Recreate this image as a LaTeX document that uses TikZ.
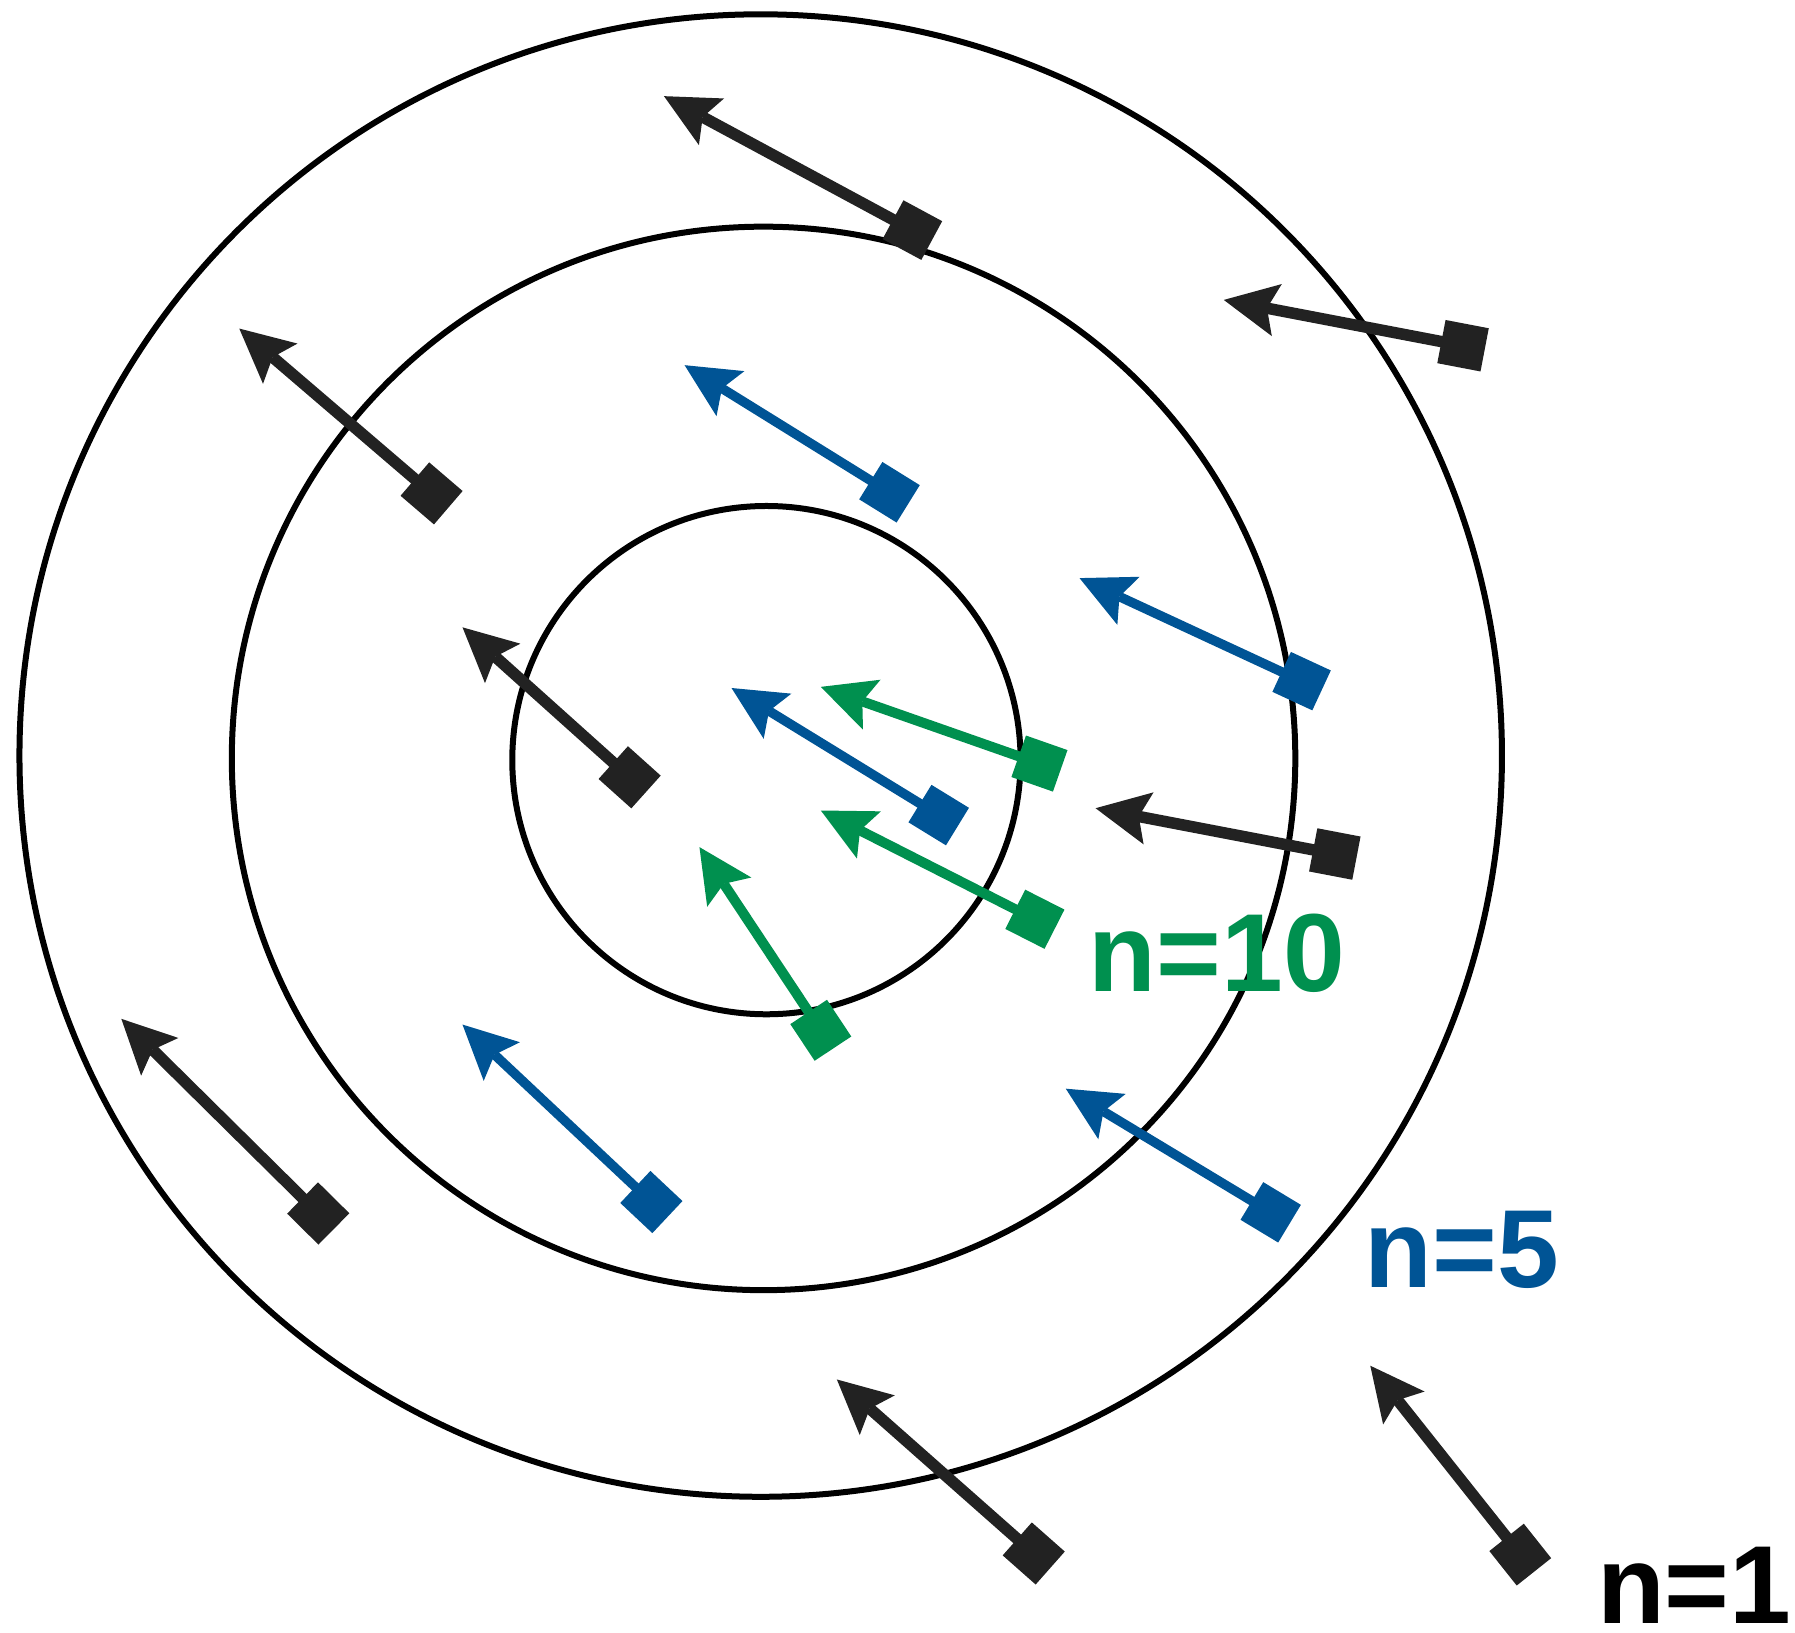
\documentclass[tikz,border=0pt]{standalone}
\usepackage{fontspec}
\setmainfont{Liberation Sans}
\usetikzlibrary{arrows.meta}
\definecolor{ink}{HTML}{222222}
\definecolor{nblue}{HTML}{005495}
\definecolor{ngreen}{HTML}{00904F}
\tikzset{
  ring/.style={draw=black, line width=6pt},
  sq/.style={fill=#1, minimum size=44pt, inner sep=0pt, outer sep=0pt, draw=none},
  vec/.style={draw=#1, -{Stealth[length=54pt,width=53pt,inset=10pt,line width=0pt]}},
  lab/.style={text=#1, anchor=base west, inner sep=0pt, font=\bfseries\fontsize{111}{111}\selectfont}
}
\begin{document}
\begin{tikzpicture}[x=1.1448pt, y=-1.1448pt]
\useasboundingbox (0,0) rectangle (1568,1426);
\draw[ring] (664.5,660) circle[radius=647.5];
\draw[ring] (667,662.5) circle[radius=464.5];
\draw[ring] (669.5,664) circle[radius=222];
\foreach \n/\tx/\ty/\hx/\hy/\c/\w in {
  a1/797/201/580/84/ink/11.5,
  a2/1278/302/1069/262/ink/11.5,
  a3/377/431/209/287/ink/11.5,
  a4/550/679/404/548/ink/11.5,
  a5/1166/746/957/706/ink/11.5,
  a6/278/1060/106/890/ink/11.5,
  a7/903/1357/731/1205/ink/11.5,
  a8/1328/1358/1197/1193/ink/11.5,
  b1/777/430/598/319/nblue/9.5,
  b2/1137/595/943/505/nblue/9.5,
  b3/820/712/639/601/nblue/9.5,
  b4/569/1050/404/895/nblue/9.5,
  b5/1110/1059/931/951/nblue/9.5,
  g1/908/667/717/600/ngreen/10,
  g2/904/803/717/708/ngreen/10,
  g3/717/900/611/740/ngreen/10}{
  \pgfmathsetmacro\ang{atan2(\ty-\hy,\hx-\tx)}
  \coordinate (h\n) at (\hx,\hy);
  \node[sq=\c, rotate=\ang] (t\n) at (\tx,\ty) {};
  \draw[vec=\c, line width=\w pt] (t\n.center) -- (h\n);
}
\node[lab=ngreen] (l10) at (951,866) {n=10};
\node[lab=nblue] (l5) at (1192,1125) {n=5};
\node[lab=black] (l1) at (1395,1418) {n=1};
\end{tikzpicture}
\end{document}
